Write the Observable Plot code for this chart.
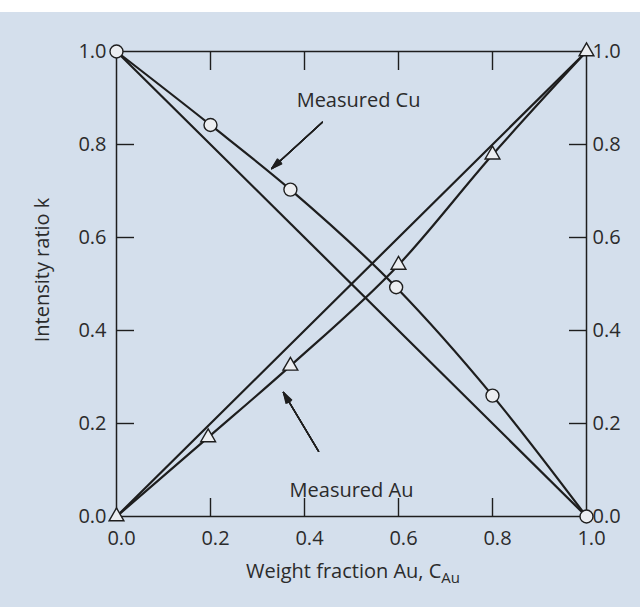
<!DOCTYPE html>
<html>
<head>
<meta charset="utf-8">
<script src="https://cdn.jsdelivr.net/npm/d3@7"></script>
<script src="https://cdn.jsdelivr.net/npm/@observablehq/plot@0.6"></script>
<style>
  body { margin: 0; background: #ffffff; font-family: "Open Sans", sans-serif; }
  #panel { position: relative; margin-top: 12px; width: 640px; height: 595px; background: #d4dfec; }
  #panel svg { position: absolute; left: 0; top: 0; }
  #xlabel { position: absolute; left: 116px; width: 474px; top: 546px; text-align: center;
            font-size: 20px; line-height: 26px; color: #2b2b2b; }
  #xlabel sub { font-size: 0.75em; vertical-align: -0.35em; line-height: 0; }
</style>
</head>
<body>
<div id="panel"><div id="xlabel">Weight fraction Au, C<sub>Au</sub></div></div>
<script>
// Axis ticks
const tickValues = [0, 0.2, 0.4, 0.6, 0.8, 1.0];
const innerTicks = [0.2, 0.4, 0.6, 0.8];

// Ideal (linear) intensity ratios
const idealFraction = [0, 1];
const idealCu = [1, 0];
const idealAu = [0, 1];

// Measured Cu intensity ratio vs. Au weight fraction
const cuFraction = [0, 0.2, 0.37, 0.595, 0.8, 1.0];
const cuRatio = [1.0, 0.842, 0.703, 0.493, 0.26, 0.0];

// Measured Au intensity ratio vs. Au weight fraction
const auFraction = [0, 0.195, 0.37, 0.6, 0.8, 1.0];
const auRatio = [0.0, 0.17, 0.324, 0.541, 0.778, 1.0];

// Callout labels and their arrows
const labelText = ["Measured Cu", "Measured Au"];
const labelX = [0.515, 0.5];
const labelY = [0.895, 0.055];
const arrowFrom = [[0.438, 0.848], [0.43, 0.14]];
const arrowTo = [[0.33, 0.748], [0.355, 0.267]];

const zip = (xs, ys) => xs.map((x, i) => ({x, y: ys[i]}));
const idealCuData = zip(idealFraction, idealCu);
const idealAuData = zip(idealFraction, idealAu);
const cuData = zip(cuFraction, cuRatio);
const auData = zip(auFraction, auRatio);
const labels = labelText.map((text, i) => ({text, x: labelX[i], y: labelY[i]}));
const arrows = arrowFrom.map((a, i) => ({x1: a[0], y1: a[1], x2: arrowTo[i][0], y2: arrowTo[i][1]}));

const ink = "#1e1e1e";
const textInk = "#2b2b2b";
const fmt = d3.format(".1f");
const blank = () => "";

// stacked heads of narrowing angle give a solid arrowhead
const arrowMarks = [34, 26, 18, 10, 3].map((angle) =>
  Plot.arrow(arrows, {x1: "x1", y1: "y1", x2: "x2", y2: "y2", stroke: ink, strokeWidth: 1.3,
    headLength: 13, headAngle: angle}));

const chart = Plot.plot({
  width: 640,
  height: 543,
  marginTop: 39,
  marginBottom: 39,
  marginLeft: 116,
  marginRight: 54,
  style: {background: "transparent", fontFamily: "'Open Sans', sans-serif", fontSize: "20px", color: textInk},
  x: {domain: [0, 1]},
  y: {domain: [0, 1]},
  marks: [
    // inward ticks on all four sides
    Plot.axisY(innerTicks, {anchor: "left", tickSize: 18, dx: 18, tickFormat: blank, label: null, stroke: ink, strokeWidth: 1.4}),
    Plot.axisY(innerTicks, {anchor: "right", tickSize: 18, dx: -18, tickFormat: blank, label: null, stroke: ink, strokeWidth: 1.4}),
    Plot.axisX(innerTicks, {anchor: "top", tickSize: 18, dy: 18, tickFormat: blank, label: null, stroke: ink, strokeWidth: 1.4}),
    Plot.axisX(innerTicks, {anchor: "bottom", tickSize: 18, dy: -18, tickFormat: blank, label: null, stroke: ink, strokeWidth: 1.4}),
    // tick labels
    Plot.axisY(tickValues, {anchor: "left", tickSize: 0, tickPadding: 10, tickFormat: fmt, fontSize: 20, label: null}),
    Plot.axisY(tickValues, {anchor: "right", tickSize: 0, tickPadding: 6, tickFormat: fmt, fontSize: 20, label: null}),
    Plot.axisX(tickValues, {anchor: "bottom", tickSize: 0, tickPadding: 14, dx: 5, tickFormat: fmt, fontSize: 20, label: null}),
    Plot.text(["Intensity ratio k"], {frameAnchor: "left", textAnchor: "middle", rotate: -90, dx: -74, dy: -14, fontSize: 20, fill: textInk}),
    Plot.frame({stroke: ink, strokeWidth: 1.5}),
    // ideal straight lines
    Plot.line(idealCuData, {x: "x", y: "y", stroke: ink, strokeWidth: 2.2}),
    Plot.line(idealAuData, {x: "x", y: "y", stroke: ink, strokeWidth: 2.2}),
    // measured curves
    Plot.line(cuData, {x: "x", y: "y", stroke: ink, strokeWidth: 2.2, curve: "monotone-x"}),
    Plot.line(auData, {x: "x", y: "y", stroke: ink, strokeWidth: 2.2, curve: "monotone-x"}),
    Plot.dot(cuData, {x: "x", y: "y", r: 6.5, fill: "#eceef1", stroke: ink, strokeWidth: 1.4}),
    Plot.dot(auData, {x: "x", y: "y", symbol: "triangle", r: 5.5, fill: "#eceef1", stroke: ink, strokeWidth: 1.4}),
    // callouts
    ...arrowMarks,
    Plot.text(labels, {x: "x", y: "y", text: "text", fontSize: 20, fill: textInk})
  ]
});

document.getElementById("panel").prepend(chart);
</script>
</body>
</html>
